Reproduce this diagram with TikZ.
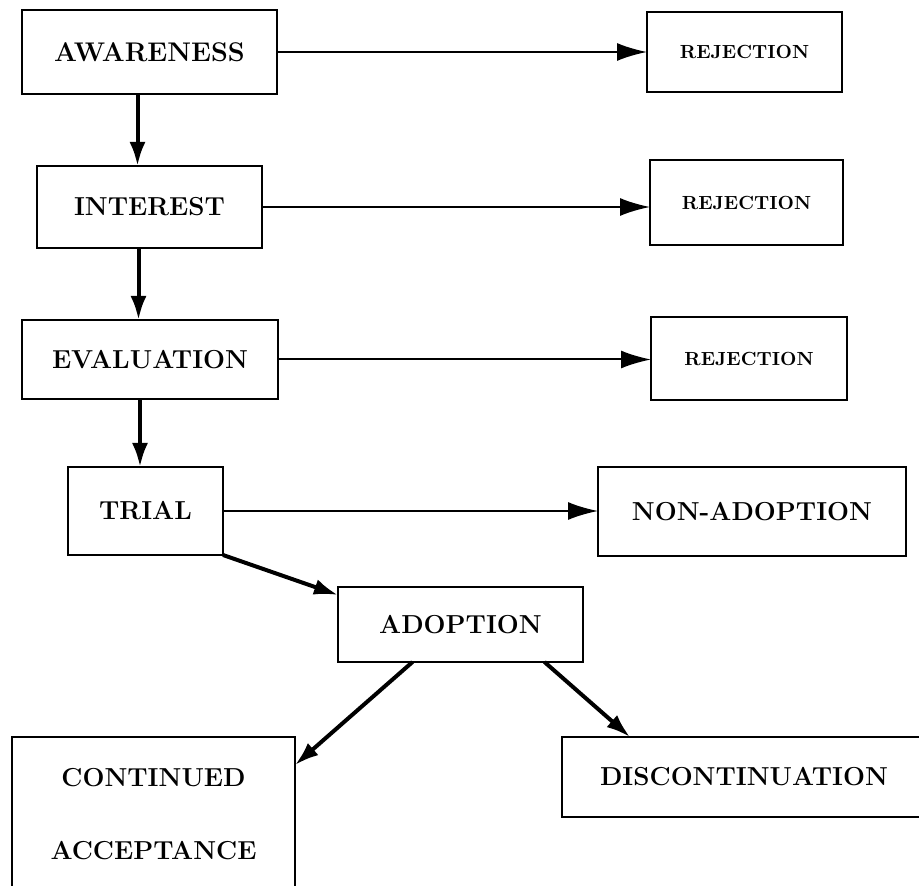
\documentclass[tikz,border=0pt]{standalone}
\usepackage{tikz}
\usetikzlibrary{
  calc,
  positioning,
  arrows.meta
}

\begin{document}
\begin{tikzpicture}[>=Latex, x=0.5pt, y=-0.5pt]
  \tikzset{
    stage/.style={
      draw, line width=1.3pt, inner sep=0pt, outer sep=0pt,
      font=\fontsize{13}{15}\selectfont\bfseries
    },
    outcome/.style={
      stage, font=\fontsize{9.5}{12}\selectfont\bfseries
    },
    side flow/.style={line width=1pt, -{Latex[length=15pt,width=9pt]}},
    down flow/.style={line width=2pt, -{Latex[length=12pt,width=8pt]}},
  }

  \clip (0,0) rectangle (919,886);

  % main chain on the left
  \node[stage, minimum width=127.5pt, minimum height=42pt,
    font=\fontsize{13.5}{15}\selectfont\bfseries] (aware) at (149.5,52) {AWARENESS};
  \node[stage, minimum width=112.5pt, minimum height=41pt] (interest) at (149.5,207) {INTEREST};
  \node[stage, minimum width=128pt, minimum height=39.5pt] (eval) at (150,359.5) {EVALUATION};
  \node[stage, minimum width=77.5pt, minimum height=44pt] (trial) at (145.5,511) {TRIAL};
  \node[stage, minimum width=122.5pt, minimum height=37.5pt] (adopt) at (460.5,624.5) {ADOPTION};

  % outcomes
  \node[outcome, minimum width=97.5pt, minimum height=40pt] (rej1) at (744.5,52) {REJECTION};
  \node[outcome, minimum width=96.5pt, minimum height=42.5pt] (rej2) at (746.5,202.5) {REJECTION};
  \node[outcome, minimum width=98pt, minimum height=41.5pt] (rej3) at (749,358.5) {REJECTION};
  \node[stage, minimum width=154pt, minimum height=44.5pt] (nonadopt) at (752,511.5) {NON-ADOPTION};
  \node[stage, minimum width=141.5pt, minimum height=77.5pt, align=center,
    font=\fontsize{13}{36.5}\selectfont\bfseries] (cont) at (153.5,814.5) {CONTINUED\\ACCEPTANCE};
  \node[stage, minimum width=182pt, minimum height=40pt] (discont) at (744,777) {DISCONTINUATION};

  % arrows
  \draw[down flow] ([xshift=-6pt]aware.south) -- ([xshift=-6pt]aware.south |- interest.north);
  \draw[down flow] ([xshift=-5.5pt]interest.south) -- ([xshift=-5.5pt]interest.south |- eval.north);
  \draw[down flow] ([xshift=-5pt]eval.south) -- ([xshift=-5pt]eval.south |- trial.north);
  \draw[down flow] (trial.south east) -- ([yshift=-4pt]adopt.north west);
  \draw[down flow] ([xshift=-24pt]adopt.south) -- ([yshift=-14pt]cont.north east);
  \draw[down flow] ([xshift=42pt]adopt.south) -- ([xshift=-57pt]discont.north);

  \draw[side flow] (aware.east) -- (aware.east -| rej1.west);
  \draw[side flow] (interest.east) -- (interest.east -| rej2.west);
  \draw[side flow] (eval.east) -- (eval.east -| rej3.west);
  \draw[side flow] (trial.east) -- (trial.east -| nonadopt.west);
\end{tikzpicture}
\end{document}
